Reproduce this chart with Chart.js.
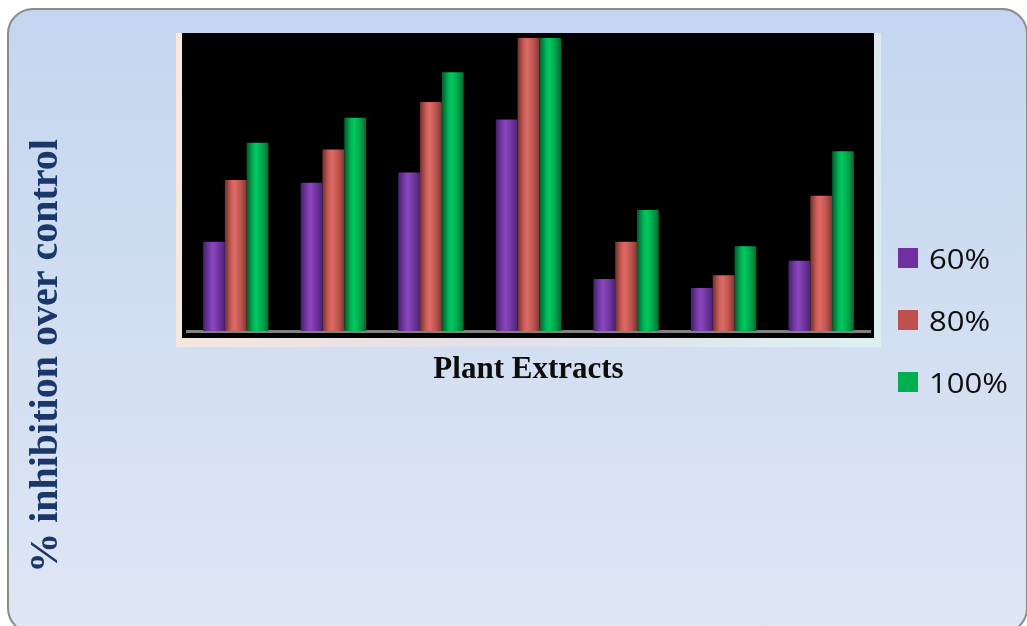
<!DOCTYPE html>
<html>
<head>
<meta charset="utf-8">
<script src="https://cdn.jsdelivr.net/npm/chart.js@4/dist/chart.umd.min.js"></script>
<style>
  html, body { margin: 0; padding: 0; background: #fff; }
  #wrap { position: relative; width: 1027px; height: 626px; overflow: hidden; }
  #panel {
    position: absolute; left: 7px; top: 8px; width: 1017px; height: 622px;
    border: 2px solid #8c8c8c; border-radius: 26px;
    background: linear-gradient(#c4d6ef, #dfe6f4);
  }
  #section { position: absolute; left: 0; top: 0; }
</style>
</head>
<body>
<div id="wrap">
  <div id="panel"></div>
  <canvas id="section" width="1027" height="626"></canvas>
</div>
<script>
// values (% inhibition over control)
const extracts = ["Extract 1", "Extract 2", "Extract 3", "Extract 4", "Extract 5", "Extract 6", "Extract 7"];
const inh60 = [30.7, 50.9, 54.5, 72.7, 17.9, 14.8, 24.1];
const inh80 = [51.9, 62.4, 78.7, 100.7, 30.7, 19.2, 46.5];
const inh100 = [64.7, 73.3, 88.9, 100.7, 41.6, 29.1, 61.8];
const seriesNames = ["60%", "80%", "100%"];
const flatColors = ["#7030a0", "#c0504d", "#00b050"];

// cylinder shading, left edge -> right edge
const shades = [
  ["#45206e", "#7a3bab", "#8a47bd", "#6c339a", "#4a2375"],
  ["#73302c", "#cf5f5a", "#de6a65", "#b9534e", "#7e3732"],
  ["#005a2a", "#00b556", "#00c95f", "#00a04a", "#006a31"]
];

let ctxEl = document.getElementById("section");

const framePlugin = {
  id: "frame",
  beforeDraw(chart) {
    const ctx = chart.ctx, ca = chart.chartArea;
    ctx.save();
    const g = ctx.createLinearGradient(ca.left - 11, ca.top, ca.right + 11, ca.bottom + 16);
    g.addColorStop(0, "#fde9d9");
    g.addColorStop(0.55, "#e2dfea");
    g.addColorStop(1, "#dcf0f2");
    ctx.fillStyle = g;
    ctx.fillRect(ca.left - 11, ca.top, ca.right - ca.left + 22, ca.bottom - ca.top + 16);
    ctx.fillStyle = "#000";
    ctx.fillRect(ca.left - 5, ca.top, ca.right - ca.left + 9, ca.bottom - ca.top + 7);
    ctx.restore();
  },
  beforeDatasetsDraw(chart) {
    const ctx = chart.ctx;
    chart.data.datasets.forEach((ds, i) => {
      chart.getDatasetMeta(i).data.forEach((bar) => {
        const x0 = bar.x - bar.width / 2, x1 = bar.x + bar.width / 2;
        const g = ctx.createLinearGradient(x0, 0, x1, 0);
        const s = shades[i];
        g.addColorStop(0, s[0]);
        g.addColorStop(0.3, s[1]);
        g.addColorStop(0.45, s[2]);
        g.addColorStop(0.75, s[3]);
        g.addColorStop(1, s[4]);
        bar.options = Object.assign({}, bar.options, { backgroundColor: g });
      });
    });
  },
  afterDraw(chart) {
    const ctx = chart.ctx, ca = chart.chartArea;
    ctx.save();
    // y title
    ctx.translate(57, 356);
    ctx.rotate(-Math.PI / 2);
    ctx.fillStyle = "#1b3668";
    ctx.font = "bold 40px 'Liberation Serif'";
    ctx.textAlign = "center";
    ctx.textBaseline = "alphabetic";
    ctx.fillText("% inhibition over control", 0, 0);
    ctx.restore();

    // legend
    chart.data.datasets.forEach((ds, i) => {
      const top = ca.top + 215 + i * 62;
      ctx.save();
      ctx.fillStyle = flatColors[i];
      ctx.fillRect(ca.right + 28, top, 20, 20);
      ctx.translate(ca.right + 59, top + 21);
      ctx.scale(1.15, 1);
      ctx.fillStyle = "#0d0d0d";
      ctx.font = "27px 'Open Sans'";
      ctx.textBaseline = "alphabetic";
      ctx.fillText(ds.label, 0, 0);
      ctx.restore();
    });
  }
};

new Chart(ctxEl, {
  type: "bar",
  data: {
    labels: extracts,
    datasets: [
      { label: seriesNames[0], data: inh60, backgroundColor: flatColors[0] },
      { label: seriesNames[1], data: inh80, backgroundColor: flatColors[1] },
      { label: seriesNames[2], data: inh100, backgroundColor: flatColors[2] }
    ]
  },
  options: {
    responsive: false,
    animation: false,
    devicePixelRatio: 1,
    layout: { padding: { left: 187, right: 157, top: 33, bottom: 237.8 } },
    datasets: { bar: { categoryPercentage: 0.67, barPercentage: 1.0, borderWidth: 0 } },
    plugins: { legend: { display: false }, tooltip: { enabled: false } },
    scales: {
      x: {
        grid: { display: false },
        ticks: { display: false },
        border: { display: true, color: "#808080", width: 3 },
        title: {
          display: true,
          text: "Plant Extracts",
          color: "#0d0d0d",
          font: { family: "'Liberation Serif'", size: 31, weight: "bold" },
          padding: { top: 12, bottom: 0 }
        }
      },
      y: { display: false, min: 0, max: 102.4 }
    }
  },
  plugins: [framePlugin]
});
</script>
</body>
</html>
